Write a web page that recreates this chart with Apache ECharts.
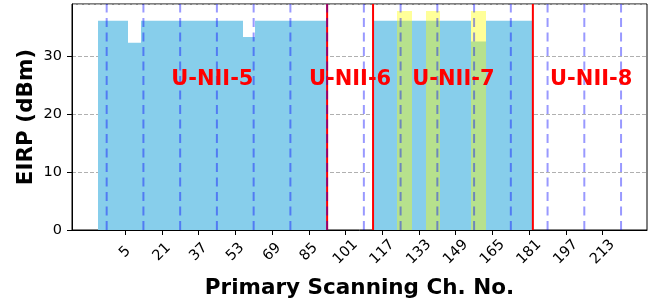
<!DOCTYPE html>
<html>
<head>
<meta charset="utf-8">
<script src="https://cdn.jsdelivr.net/npm/echarts@6/dist/echarts.min.js"></script>
<style>
html, body { margin: 0; padding: 0; background: #fff; }
#chart { width: 651px; height: 303px; }
</style>
</head>
<body>
<div id="chart"></div>
<script>
// x values are in the same units as the tick labels
const tickChannels = [5, 21, 37, 53, 69, 85, 101, 117, 133, 149, 165, 181, 197, 213];
const eirpTicks = [0, 10, 20, 30];

// sky blue bars: left edge, right edge, EIRP (dBm)
const blueLeft  = [-6.8, 6.2, 12.1, 56.3, 61.6, 113, 155.7, 162.1];
const blueRight = [6.2, 12.1, 56.3, 61.6, 93, 155.7, 162.1, 182.6];
const blueEirp  = [36.2, 32.4, 36.2, 33.4, 36.2, 36.2, 32.6, 36.2];

// translucent yellow bars
const yellowLeft  = [123.6, 136.1, 155.7];
const yellowRight = [130.0, 142.2, 162.1];
const yellowEirp  = [37.9, 37.9, 37.9];

// dashed blue lines and red band edges
const blockEdges = [-3, 13, 29, 45, 61, 77, 93, 109, 125, 141, 157, 173, 189, 205, 221];
const bandEdges  = [93, 113, 182.6];

const bandNames   = ['U-NII-5', 'U-NII-6', 'U-NII-7', 'U-NII-8'];
const bandCenters = [43, 103, 148, 208];
const bandLabelY  = 26;

const X_MIN = -18.1, X_MAX = 232.3;
const Y_MAX = 39.1;
const FONT = 'DejaVu Sans';

function rectRender(color) {
    return function (params, api) {
        const p0 = api.coord([api.value(0), api.value(2)]);
        const p1 = api.coord([api.value(1), 0]);
        // snap to whole pixels so neighbouring bars don't leave seams
        const x0 = Math.round(p0[0]), x1 = Math.round(p1[0]);
        return {
            type: 'rect',
            shape: { x: x0, y: p0[1], width: x1 - x0, height: p1[1] - p0[1] },
            style: { fill: color }
        };
    };
}

function vlineRender(color, width, dash) {
    return function (params, api) {
        const b = api.coord([api.value(0), 0]);
        const t = api.coord([api.value(0), Y_MAX]);
        return {
            type: 'line',
            shape: { x1: b[0], y1: b[1], x2: t[0], y2: t[1] },
            style: { stroke: color, lineWidth: width, lineDash: dash }
        };
    };
}

const chart = echarts.init(document.getElementById('chart'));

const option = {
    animation: false,
    grid: {
        left: 72, right: 4, top: 4, bottom: 73,
        show: true, borderColor: '#000', borderWidth: 1,
        containLabel: false, outerBoundsMode: 'none'
    },
    xAxis: {
        type: 'value', min: X_MIN, max: X_MAX, z: 10,
        axisLine: { show: true, onZero: false, lineStyle: { color: '#000', width: 1 } },
        axisTick: { show: true, customValues: tickChannels, length: 5, lineStyle: { color: '#000' } },
        axisLabel: {
            customValues: tickChannels, rotate: 45, align: 'center', verticalAlign: 'middle',
            margin: 22, fontSize: 14.5, color: '#000', fontFamily: FONT
        },
        splitLine: { show: false },
        name: 'Primary Scanning Ch. No.', nameLocation: 'middle', nameGap: 47, nameMoveOverlap: false,
        nameTextStyle: { fontSize: 21.5, fontWeight: 'bold', color: '#000', fontFamily: FONT }
    },
    yAxis: [
        {
            type: 'value', min: 0, max: Y_MAX, interval: 10, position: 'left', z: 0,
            axisLine: { show: false }, axisTick: { show: false }, axisLabel: { show: false },
            splitLine: { show: true, lineStyle: { color: '#b0b0b0', width: 1, type: [4, 2] } }
        },
        {
            type: 'value', min: 0, max: Y_MAX, interval: 10, position: 'left', offset: 0, z: 10,
            axisLine: { show: true, lineStyle: { color: '#000', width: 1 } },
            axisTick: { show: true, customValues: eirpTicks, length: 5, lineStyle: { color: '#000' } },
            axisLabel: { customValues: eirpTicks, margin: 10, fontSize: 14.5, color: '#000', fontFamily: FONT },
            splitLine: { show: false },
            name: 'EIRP (dBm)', nameLocation: 'middle', nameGap: 35, nameRotate: 90, nameMoveOverlap: false,
            nameTextStyle: { fontSize: 21.5, fontWeight: 'bold', color: '#000', fontFamily: FONT }
        }
    ],
    series: [
        {
            type: 'custom', z: 2, silent: true,
            encode: { x: [0, 1], y: 2 },
            data: blueLeft.map((l, i) => [l, blueRight[i], blueEirp[i]]),
            renderItem: rectRender('#87ceeb')
        },
        {
            type: 'custom', z: 3, silent: true,
            encode: { x: [0, 1], y: 2 },
            data: yellowLeft.map((l, i) => [l, yellowRight[i], yellowEirp[i]]),
            renderItem: rectRender('rgba(255,255,0,0.4)')
        },
        {
            type: 'custom', z: 4, silent: true,
            encode: { x: 0 },
            data: bandEdges.map(v => [v]),
            renderItem: vlineRender('#ff0000', 2, null)
        },
        {
            type: 'custom', z: 5, silent: true,
            encode: { x: 0 },
            data: blockEdges.map(v => [v]),
            renderItem: vlineRender('rgba(0,0,255,0.4)', 2, [9, 5.5])
        },
        {
            type: 'custom', z: 6, silent: true,
            encode: { x: 0, y: 1 },
            data: bandCenters.map((c, i) => [c, bandLabelY, bandNames[i]]),
            renderItem: function (params, api) {
                const p = api.coord([api.value(0), api.value(1)]);
                return {
                    type: 'text', x: p[0], y: p[1],
                    style: {
                        text: bandNames[params.dataIndex],
                        fill: '#ff0000', fontSize: 21, fontWeight: 'bold', fontFamily: FONT,
                        align: 'center', verticalAlign: 'middle'
                    }
                };
            }
        }
    ]
};

chart.setOption(option);
</script>
</body>
</html>
